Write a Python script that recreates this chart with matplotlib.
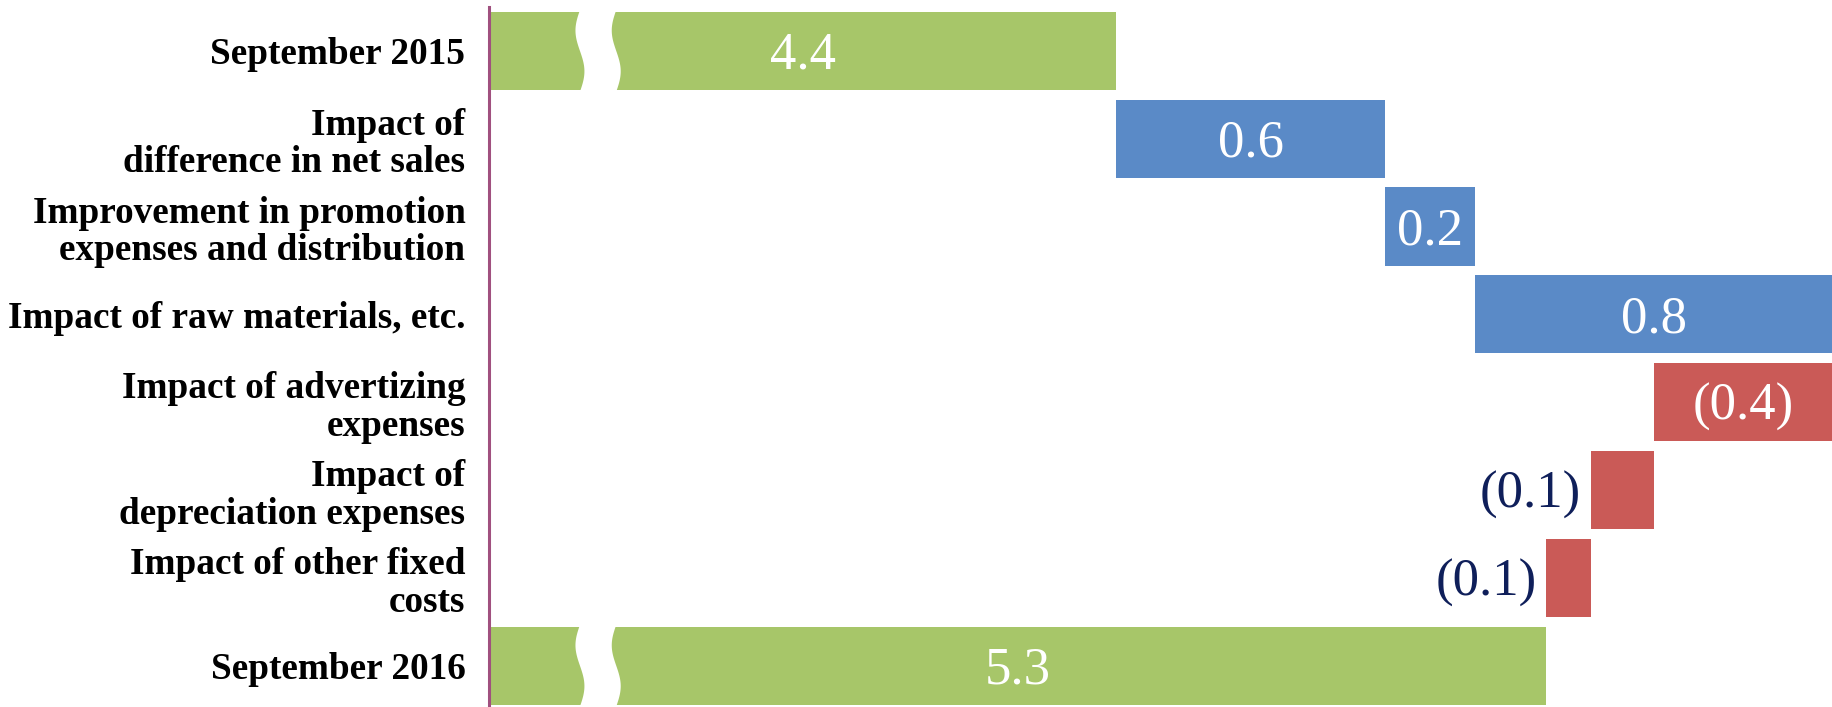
import matplotlib
matplotlib.use("Agg")
import matplotlib.pyplot as plt
import matplotlib.transforms as mtransforms
from matplotlib.patches import Polygon
import numpy as np

# ---- data ----
categories = [
    "September 2015",
    "Impact of\ndifference in net sales",
    "Improvement in promotion\nexpenses and distribution",
    "Impact of raw materials, etc.",
    "Impact of advertizing\nexpenses",
    "Impact of\ndepreciation expenses",
    "Impact of other fixed\ncosts",
    "September 2016",
]
start_total = 4.4
changes = [0.6, 0.2, 0.8, -0.4, -0.14, -0.1]
end_total = 5.36
value_labels = ["4.4", "0.6", "0.2", "0.8", "(0.4)", "(0.1)", "(0.1)", "5.3"]
axis_min, axis_max = 3.0, 6.0

# ---- style ----
GREEN = "#A7C669"
BLUE = "#5A8AC7"
RED = "#CA5A57"
NAVY = "#0F1F5A"
AXIS = "#A0507F"
SERIF = ["Liberation Serif", "DejaVu Serif"]

fig = plt.figure(figsize=(18.33, 7.07), dpi=100)
ax = fig.add_axes([489 / 1833, -0.0037, 1 - 489 / 1833, 0.9938])

n = len(categories)
ys = np.arange(n)
bh = 0.89

shift = mtransforms.ScaledTranslation(0, -5 / 100, fig.dpi_scale_trans)
txt_tr = ax.transData + shift

def put_label(x, y, txt, inside=True):
    if inside:
        ax.text(x, y, txt, ha="center", va="center", color="white",
                fontsize=38, family=SERIF, zorder=5, transform=txt_tr)
    else:
        ax.text(x, y, txt, ha="right", va="center", color=NAVY,
                fontsize=38, family=SERIF, zorder=5, transform=txt_tr)

# start total
ax.barh(ys[0], start_total, left=0, height=bh, color=GREEN, zorder=2)
put_label((axis_min + start_total) / 2, ys[0], value_labels[0])

cum = start_total
for i, d in enumerate(changes):
    y = ys[i + 1]
    col = BLUE if d >= 0 else RED
    ax.barh(y, d, left=cum, height=bh, color=col, zorder=2)
    lo, hi = min(cum, cum + d), max(cum, cum + d)
    if abs(d) >= 0.2:
        put_label((lo + min(hi, axis_max)) / 2, y, value_labels[i + 1])
    else:
        put_label(lo - 0.022, y, value_labels[i + 1], inside=False)
    cum += d

# end total
ax.barh(ys[-1], end_total, left=0, height=bh, color=GREEN, zorder=2)
put_label((axis_min + end_total) / 2, ys[-1], value_labels[-1])

# axis break marks on the total bars
for y in (ys[0], ys[-1]):
    t = np.linspace(0, 1, 60)
    amp = 0.010
    xl = 3.203 - amp * np.sin(2 * np.pi * t)
    xr = 3.284 - amp * np.sin(2 * np.pi * t)
    yy = y - bh / 2 - 0.02 + t * (bh + 0.04)
    pts = np.concatenate([np.column_stack([xl, yy]),
                          np.column_stack([xr[::-1], yy[::-1]])])
    ax.add_patch(Polygon(pts, closed=True, facecolor="white",
                         edgecolor="none", zorder=3))

ax.set_xlim(axis_min, axis_max)
ax.set_ylim(n - 0.5, -0.5)
ax.set_yticks(ys)
ax.set_yticklabels(categories)
for lbl in ax.get_yticklabels():
    lbl.set_fontfamily(SERIF)
    lbl.set_fontweight("bold")
    lbl.set_fontsize(26.8)
    lbl.set_linespacing(1.1)
    lbl.set_multialignment("right")
ax.tick_params(axis="y", length=0, pad=17)
ax.set_xticks([])
for s in ("top", "right", "bottom"):
    ax.spines[s].set_visible(False)
ax.spines["left"].set_color(AXIS)
ax.spines["left"].set_linewidth(2.2)
ax.patch.set_alpha(0)

fig.savefig("out.png", dpi=100, facecolor="white")
